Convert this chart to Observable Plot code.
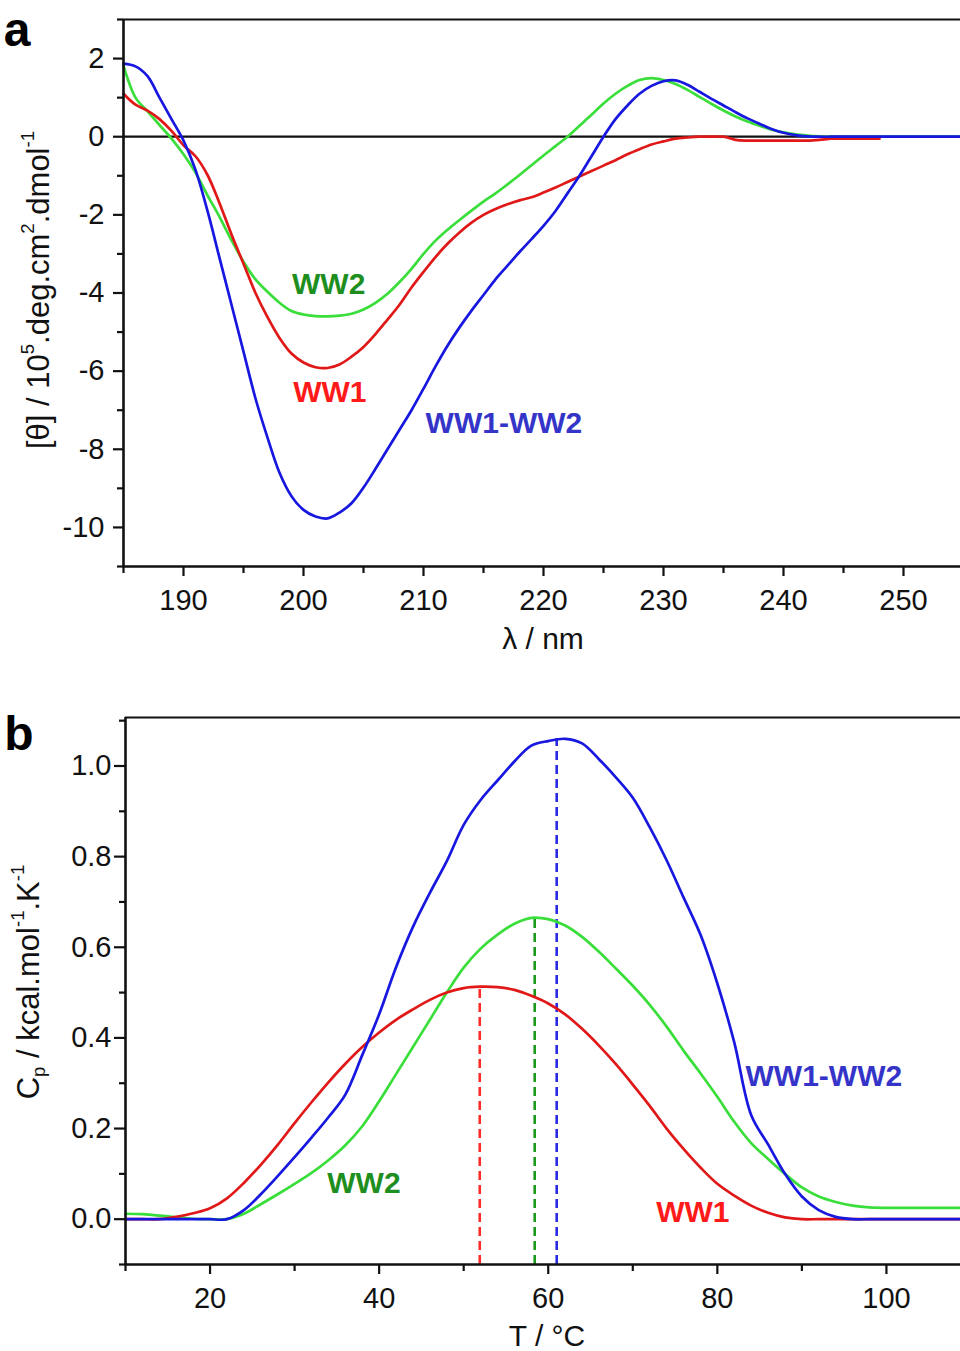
<!DOCTYPE html>
<html><head><meta charset="utf-8">
<script src="https://cdn.jsdelivr.net/npm/d3@7"></script>
<script src="https://cdn.jsdelivr.net/npm/@observablehq/plot@0.6"></script>
<style>
body{margin:0;background:#fff;}
#wrap{position:relative;width:960px;height:1351px;overflow:hidden;background:#fff;}
#wrap svg{position:absolute;left:0;display:block;}
</style></head><body><div id="wrap"></div>
<script>
// ---------- Panel a: CD spectra ----------
const cdNm = [185,186,187,188,189,190,191,192,193,194,195,196,197,198,199,200,201,202,203,204,205,206,207,208,209,210,211,212,213,214,215,216,217,218,219,220,221,222,223,224,225,226,227,228,229,230,231,232,233,234,235,236,237,238,239,240,241,242,243,244,245,246,247,248,254.75];
const cdWW1 = [1.1,0.82,0.67,0.45,0.15,-0.22,-0.5,-0.98,-1.7,-2.5,
  -3.25,-4.0,-4.62,-5.15,-5.55,-5.78,-5.9,-5.92,-5.83,-5.63,
  -5.38,-5.05,-4.68,-4.3,-3.86,-3.46,-3.08,-2.74,-2.45,-2.2,
  -2.0,-1.85,-1.73,-1.63,-1.55,-1.43,-1.3,-1.16,-1.02,-0.88,
  -0.74,-0.6,-0.45,-0.32,-0.2,-0.12,-0.05,-0.02,0,0,
  0,-0.08,-0.1,-0.1,-0.1,-0.1,-0.1,-0.1,-0.08,-0.05,
  -0.05,-0.05,-0.05,-0.05,null];
const cdWW2 = [1.82,1.0,0.65,0.3,-0.05,-0.45,-0.92,-1.5,-2.05,-2.65,
  -3.2,-3.65,-3.97,-4.25,-4.46,-4.55,-4.59,-4.6,-4.58,-4.53,
  -4.42,-4.25,-4.02,-3.72,-3.38,-3.0,-2.66,-2.38,-2.13,-1.89,
  -1.66,-1.45,-1.22,-0.98,-0.73,-0.48,-0.24,0.0,0.28,0.56,
  0.85,1.1,1.3,1.45,1.5,1.45,1.35,1.2,1.02,0.84,
  0.67,0.52,0.39,0.28,0.18,0.11,0.06,0.03,0.01,0,
  0,0,0,0,0];
const cdWW12 = [1.87,1.8,1.55,1.0,0.45,-0.1,-0.85,-1.9,-3.1,-4.3,
  -5.5,-6.7,-7.7,-8.6,-9.2,-9.55,-9.72,-9.77,-9.62,-9.38,
  -8.98,-8.5,-8.0,-7.5,-7.0,-6.45,-5.88,-5.35,-4.88,-4.45,
  -4.05,-3.65,-3.3,-2.95,-2.62,-2.28,-1.9,-1.45,-1.0,-0.5,
  0.0,0.45,0.8,1.1,1.3,1.42,1.44,1.33,1.15,0.97,
  0.8,0.63,0.47,0.33,0.2,0.1,0.04,0.01,0,0,
  0,0,0,0,0];
const cdXDomain = [185, 254.75];
const cdYDomain = [-11, 3];
const cdXMajor = [190,200,210,220,230,240,250];
const cdXMinor = [185,195,205,215,225,235,245];
const cdYMajor = [-10,-8,-6,-4,-2,0,2];
const cdYMinor = [-11,-9,-7,-5,-3,-1,1,3];
const cdLabels = [
  {t:"WW2", x:202.1, y:-3.77},
  {t:"WW1", x:202.2, y:-6.54},
  {t:"WW1-WW2", x:216.7, y:-7.33}
];

// ---------- Panel b: DSC ----------
const dscT = [10,12,14,16,18,20,22,24,26,28,30,32,34,36,38,40,42,44,46,48,50,52,54,56,58,60,62,64,66,68,70,72,74,76,78,80,82,84,86,88,90,92,94,96,98,100,102,104,106,108,108.76];
const dscWW1 = [0,0,0,0.005,0.013,0.024,0.046,0.08,0.12,0.164,
  0.212,0.258,0.302,0.343,0.38,0.412,0.44,0.463,0.484,0.5,
  0.51,0.513,0.512,0.506,0.493,0.476,0.452,0.42,0.383,0.342,
  0.297,0.25,0.2,0.155,0.114,0.078,0.052,0.03,0.014,0.004,
  0,0,0,0,0,0,0,0,0,0,0];
const dscWW2 = [0.012,0.011,0.008,0.004,0.001,0,0,0.012,0.033,0.055,
  0.078,0.102,0.13,0.163,0.205,0.26,0.32,0.38,0.44,0.5,
  0.555,0.597,0.628,0.652,0.665,0.662,0.648,0.623,0.59,0.553,
  0.515,0.473,0.425,0.372,0.322,0.27,0.215,0.168,0.133,0.1,
  0.07,0.05,0.038,0.03,0.026,0.025,0.025,0.025,0.025,0.025,0.025];
const dscWW12 = [0,0,0,0,0,0,0,0.02,0.055,0.095,
  0.137,0.18,0.225,0.275,0.362,0.452,0.556,0.645,0.72,0.79,
  0.87,0.925,0.968,1.01,1.045,1.055,1.06,1.05,1.015,0.975,
  0.93,0.865,0.792,0.71,0.628,0.52,0.39,0.23,0.165,0.1,
  0.05,0.02,0.005,0,0,0,0,0,0,0,0];
const tmSeries = ["WW1","WW2","WW1-WW2"];
const tmValues = [51.9, 58.4, 61.0];
const tmPeakCp = [0.513, 0.665, 1.06];
const dscXDomain = [10, 108.76];
const dscYDomain = [-0.1, 1.107];
const dscXMajor = [20,40,60,80,100];
const dscXMinor = [10,30,50,70,90];
const dscYMajor = [0,0.2,0.4,0.6,0.8,1.0];
const dscYMinor = [-0.1,0.1,0.3,0.5,0.7,0.9,1.1];
const dscLabels = [
  {t:"WW1-WW2", x:92.6, y:0.314},
  {t:"WW2", x:38.2, y:0.080},
  {t:"WW1", x:77.1, y:0.015}
];

// ---------- styling ----------
const FONT = "'Liberation Sans', Arial, Helvetica, sans-serif";
const INK = "#111";
const C = {
  WW1: "#e01818", WW2: "#3ade3a", WW12: "#1717e0",
  tWW1: "#ff1a1a", tWW2: "#1e8f1e", tWW12: "#3434c8",
  dWW1: "#ff2a2a", dWW2: "#1a9a1a", dWW12: "#2a2ae6"
};

function rows(xs, ys) { return xs.map((x, i) => ({x, y: ys[i]})); }

function axes(xMajor, xMinor, yMajor, yMinor, yFmt, yTick, yPad) {
  return [
    Plot.axisX(xMajor, {tickSize: 10, tickPadding: 13, strokeWidth: 2.2, stroke: INK, fill: INK, fontSize: 29, tickFormat: d => String(d), label: null}),
    Plot.axisX(xMinor, {tickSize: 7, strokeWidth: 2.2, stroke: INK, tickFormat: () => "", label: null}),
    Plot.axisY(yMajor, {tickSize: yTick, tickPadding: yPad, strokeWidth: 2.2, stroke: INK, fill: INK, fontSize: 29, tickFormat: yFmt, label: null}),
    Plot.axisY(yMinor, {tickSize: 6, strokeWidth: 2.2, stroke: INK, tickFormat: () => "", label: null})
  ];
}

function richText(svg, x, y, rotate, parts, size) {
  const t = d3.select(svg).append("text")
    .attr("transform", `translate(${x},${y}) rotate(${rotate})`)
    .attr("text-anchor", "middle")
    .attr("dominant-baseline", "central")
    .attr("font-family", FONT)
    .attr("font-size", size)
    .attr("fill", INK);
  parts.forEach(([s, kind]) => {
    const sp = t.append("tspan").text(s);
    if (kind === "sup") sp.attr("baseline-shift", "super").attr("font-size", size * 0.6);
    if (kind === "sub") sp.attr("baseline-shift", "sub").attr("font-size", size * 0.6);
  });
  return t;
}

function tag(svg, x, y, s) {
  d3.select(svg).append("text").attr("x", x).attr("y", y)
    .attr("font-family", FONT).attr("font-weight", "bold").attr("font-size", 48)
    .attr("fill", "#000").text(s);
}

const lineOpts = {x: "x", y: "y", strokeWidth: 2.7, curve: "catmull-rom"};
const labelOpts = {x: "x", y: "y", text: "t", fontSize: 30, fontWeight: "bold", fontFamily: FONT};

// Panel a
const svgA = Plot.plot({
  width: 960, height: 660,
  marginTop: 19, marginBottom: 94, marginLeft: 123, marginRight: 0,
  style: {fontFamily: FONT, fontSize: "29px", color: INK, background: "transparent", overflow: "visible"},
  x: {domain: cdXDomain},
  y: {domain: cdYDomain},
  marks: [
    ...axes(cdXMajor, cdXMinor, cdYMajor, cdYMinor, d => String(d), 10, 9),
    Plot.ruleY([0], {stroke: INK, strokeWidth: 2.2}),
    Plot.line(rows(cdNm, cdWW2), {...lineOpts, stroke: C.WW2}),
    Plot.line(rows(cdNm, cdWW1), {...lineOpts, stroke: C.WW1}),
    Plot.line(rows(cdNm, cdWW12), {...lineOpts, stroke: C.WW12}),
    Plot.ruleX([cdXDomain[0]], {stroke: INK, strokeWidth: 2.6}),
    Plot.ruleY([cdYDomain[0]], {stroke: INK, strokeWidth: 2.6}),
    Plot.ruleY([cdYDomain[1]], {stroke: INK, strokeWidth: 2.2}),
    Plot.text([cdLabels[0]], {...labelOpts, fill: C.tWW2}),
    Plot.text([cdLabels[1]], {...labelOpts, fill: C.tWW1}),
    Plot.text([cdLabels[2]], {...labelOpts, fill: C.tWW12})
  ]
});
svgA.style.top = "0px";
richText(svgA, 38, 290, -90, [["[θ] / 10"],["5","sup"],[".deg.cm"],["2","sup"],[".dmol"],["-1","sup"]], 31);
richText(svgA, 543, 638, 0, [["λ / nm"]], 30);
tag(svgA, 17, 46, "a");

// Panel b
const tmRows = tmValues.map((x, i) => ({x, y1: dscYDomain[0], y2: tmPeakCp[i], s: tmSeries[i]}));
const svgB = Plot.plot({
  width: 960, height: 691,
  marginTop: 57, marginBottom: 87, marginLeft: 125, marginRight: 0,
  style: {fontFamily: FONT, fontSize: "29px", color: INK, background: "transparent", overflow: "visible"},
  x: {domain: dscXDomain},
  y: {domain: dscYDomain},
  marks: [
    ...axes(dscXMajor, dscXMinor, dscYMajor, dscYMinor, d3.format(".1f"), 11, 3),
    Plot.ruleX([tmRows[0]], {x: "x", y1: "y1", y2: "y2", stroke: C.dWW1, strokeWidth: 2.6, strokeDasharray: "9,5"}),
    Plot.ruleX([tmRows[1]], {x: "x", y1: "y1", y2: "y2", stroke: C.dWW2, strokeWidth: 2.6, strokeDasharray: "9,5"}),
    Plot.ruleX([tmRows[2]], {x: "x", y1: "y1", y2: "y2", stroke: C.dWW12, strokeWidth: 2.6, strokeDasharray: "9,5"}),
    Plot.line(rows(dscT, dscWW2), {...lineOpts, stroke: C.WW2}),
    Plot.line(rows(dscT, dscWW1), {...lineOpts, stroke: C.WW1}),
    Plot.line(rows(dscT, dscWW12), {...lineOpts, stroke: C.WW12}),
    Plot.ruleX([dscXDomain[0]], {stroke: INK, strokeWidth: 2.6}),
    Plot.ruleY([dscYDomain[0]], {stroke: INK, strokeWidth: 2.6}),
    Plot.ruleY([dscYDomain[1]], {stroke: INK, strokeWidth: 2.2}),
    Plot.text([dscLabels[0]], {...labelOpts, fill: C.tWW12}),
    Plot.text([dscLabels[1]], {...labelOpts, fill: C.tWW2}),
    Plot.text([dscLabels[2]], {...labelOpts, fill: C.tWW1})
  ]
});
svgB.style.top = "660px";
richText(svgB, 28, 322, -90, [["C"],["p","sub"],[" / kcal.mol"],["-1","sup"],[".K"],["-1","sup"]], 31);
richText(svgB, 547, 675, 0, [["T / °C"]], 30);
tag(svgB, 19, 90, "b");

const wrap = document.getElementById("wrap");
wrap.appendChild(svgA);
wrap.appendChild(svgB);
</script></body></html>
